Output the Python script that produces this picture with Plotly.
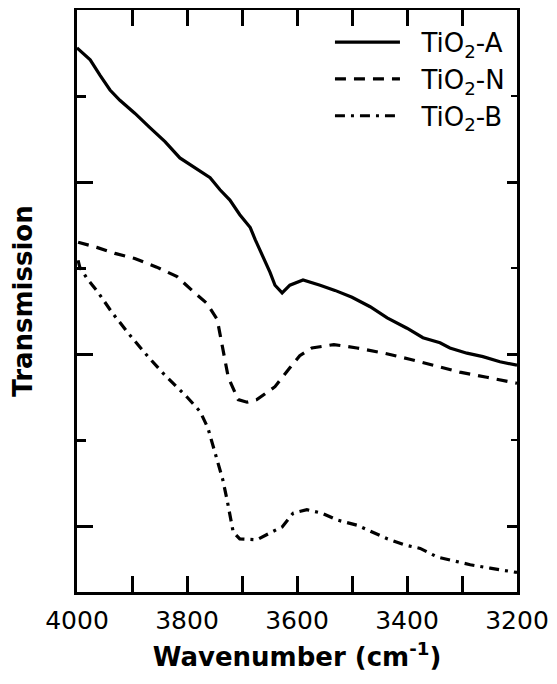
import plotly.graph_objects as go

# ---- data ----
wn_A = [4000, 3976, 3958, 3940, 3922, 3895, 3867, 3840, 3813, 3785, 3758, 3740, 3722, 3704,
        3685, 3676, 3667, 3658, 3649, 3640, 3627, 3613, 3589, 3558, 3531, 3500, 3467, 3436,
        3400, 3371, 3340, 3322, 3291, 3262, 3231, 3200]
T_A = [5.56, 5.42, 5.24, 5.07, 4.95, 4.80, 4.63, 4.47, 4.28, 4.16, 4.05, 3.91, 3.79, 3.62,
       3.47, 3.33, 3.21, 3.07, 2.95, 2.80, 2.71, 2.80, 2.86, 2.80, 2.74, 2.66, 2.55, 2.42,
       2.30, 2.19, 2.13, 2.07, 2.01, 1.97, 1.91, 1.87]

wn_N = [3998, 3964, 3931, 3895, 3855, 3818, 3791, 3764, 3745, 3736, 3725, 3707, 3691, 3673,
        3640, 3613, 3595, 3573, 3533, 3491, 3442, 3395, 3351, 3304, 3255, 3205, 3200]
T_N = [3.30, 3.24, 3.17, 3.11, 3.01, 2.90, 2.74, 2.59, 2.40, 2.08, 1.73, 1.47, 1.44, 1.47,
       1.62, 1.84, 1.98, 2.07, 2.11, 2.07, 2.01, 1.94, 1.87, 1.79, 1.73, 1.67, 1.66]

wn_B = [3998, 3995, 3982, 3962, 3936, 3904, 3871, 3844, 3800, 3776, 3762, 3753, 3744, 3735,
        3727, 3722, 3716, 3704, 3673, 3649, 3627, 3607, 3582, 3555, 3527, 3491, 3462, 3435,
        3404, 3376, 3345, 3316, 3285, 3249, 3216, 3200]
T_B = [3.09, 3.01, 2.88, 2.72, 2.48, 2.22, 1.97, 1.78, 1.50, 1.33, 1.14, 0.94, 0.74, 0.54,
       0.30, 0.13, -0.07, -0.15, -0.16, -0.08, -0.01, 0.15, 0.19, 0.15, 0.07, 0.01, -0.07, -0.15,
       -0.22, -0.26, -0.36, -0.40, -0.45, -0.49, -0.52, -0.54]

names = ["\u00a0\u00a0TiO<sub>2</sub>-A", "\u00a0\u00a0TiO<sub>2</sub>-N", "\u00a0\u00a0TiO<sub>2</sub>-B"]
X_TICK_START, X_TICK_STEP = 3200, 200

FONT = "DejaVu Sans"
X_RANGE = [4000, 3200]
Y_RANGE = [-0.767, 6.0]

fig = go.Figure()
fig.add_trace(go.Scatter(x=wn_A, y=T_A, mode="lines", name=names[0],
                         line=dict(color="black", width=3.2)))
fig.add_trace(go.Scatter(x=wn_N, y=T_N, mode="lines", name=names[1],
                         line=dict(color="black", width=3.2, dash="11px,8px")))
fig.add_trace(go.Scatter(x=wn_B, y=T_B, mode="lines", name=names[2],
                         line=dict(color="black", width=3.2, dash="10px,6px,3px,6px")))
# empty helper trace so the right-hand (shorter) tick axis is drawn
fig.add_trace(go.Scatter(x=[], y=[], xaxis="x", yaxis="y2", showlegend=False,
                         hoverinfo="skip"))

fig.update_layout(
    width=549, height=676,
    margin=dict(l=69, r=40, t=2, b=92),
    paper_bgcolor="white", plot_bgcolor="white",
    font=dict(family=FONT, color="black", size=25),
    showlegend=True,
    legend=dict(x=0.984, y=0.985, xanchor="right", yanchor="top",
                bgcolor="rgba(0,0,0,0)", font=dict(size=26, family=FONT),
                itemwidth=65, tracegroupgap=0),
    yaxis2=dict(overlaying="y", side="right", anchor="x", range=Y_RANGE,
                showgrid=False, zeroline=False, showline=False, showticklabels=False,
                tick0=0, dtick=2, ticks="inside", ticklen=10, tickwidth=2.5, tickcolor="black",
                minor=dict(dtick=1, tick0=0, ticks="inside", ticklen=6, tickwidth=2,
                           tickcolor="black", showgrid=False)),
)

fig.layout.xaxis.update(
    range=X_RANGE, tickmode="linear", tick0=X_TICK_START, dtick=X_TICK_STEP,
    showgrid=False, zeroline=False,
    showline=True, linecolor="black", linewidth=3, mirror="allticks",
    ticks="inside", ticklen=16, tickwidth=3, tickcolor="black",
    minor=dict(dtick=100, tick0=4000, ticks="inside", ticklen=9, tickwidth=2.5,
               tickcolor="black", showgrid=False),
    tickfont=dict(size=25, family=FONT),
    ticklabelstandoff=4,
    title=dict(text="<b>Wavenumber (cm<sup>-1</sup>)</b>", font=dict(size=26, family=FONT),
               standoff=14),
    automargin=False,
)
fig.layout.yaxis.update(
    range=Y_RANGE, tick0=0, dtick=2,
    showgrid=False, zeroline=False, showticklabels=False,
    showline=True, linecolor="black", linewidth=3, mirror=True,
    ticks="inside", ticklen=16, tickwidth=3, tickcolor="black",
    minor=dict(dtick=1, tick0=0, ticks="inside", ticklen=9, tickwidth=2.5,
               tickcolor="black", showgrid=False),
    title=dict(text="<b>Transmission</b>", font=dict(size=26, family=FONT), standoff=37),
    automargin=False,
)

fig.write_html("out.html")
